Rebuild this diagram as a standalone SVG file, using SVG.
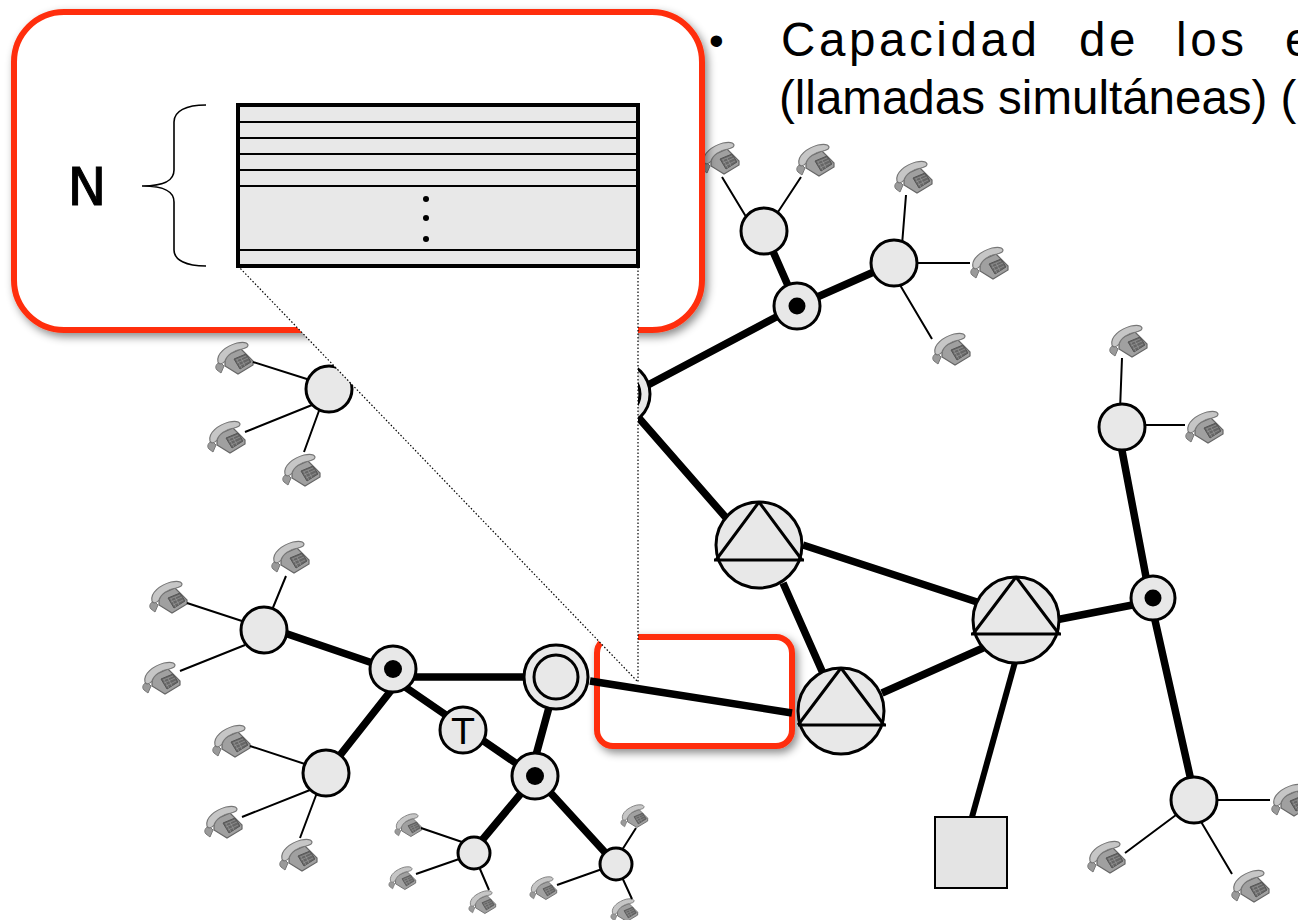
<svg xmlns="http://www.w3.org/2000/svg" width="1298" height="920" viewBox="0 0 1298 920">
<style>
.t{font-family:"Liberation Sans",Arial,sans-serif;font-size:47.5px;fill:#000}
.hand{font-family:"DejaVu Sans",sans-serif;fill:#000}
.n{fill:#e8e8e8;stroke:#000;stroke-width:3}
.thick{stroke:#000;stroke-width:7.5;fill:none}
.med{stroke:#000;stroke-width:6;fill:none}
.thin{stroke:#000;stroke-width:2;fill:none}
.dot{fill:#000}
.tri{fill:none;stroke:#000;stroke-width:3}
.red{fill:#fff;stroke:#ff2f0a;stroke-width:6;filter:url(#sh)}
.row{stroke:#000;stroke-width:2}
.dotted{fill:none;stroke:#000;stroke-width:1.2;stroke-dasharray:1.5 2}
</style>
<defs>
<filter id="sh" x="-10%" y="-10%" width="125%" height="125%"><feDropShadow dx="3" dy="4" stdDeviation="4" flood-color="#000" flood-opacity="0.45"/></filter>
<g id="ph">
<path d="M-17 12 C-20 9 -17 5 -14 4 L-10 8 L-13 15Z" fill="#9a9a9a" stroke="#777" stroke-width="1"/>
<path d="M-9 -2 L7 -9 L19 3 L19 7 L4 16 L-9 8Z" fill="#a0a0a0" stroke="#666" stroke-width="1.2"/>
<path d="M0 1 L12 -4 L17 4 L6 11Z" fill="#666" stroke="#555" stroke-width="1"/>
<path d="M2 2 L12 -2 M3 5 L14 0 M5 8 L15 3 M3 2 L8 10 M7 0 L11 8" stroke="#999" stroke-width="0.7"/>
<path d="M-16 4 C-18 -4 -8 -12 3 -15 C8 -16 13 -16 14 -13 C14 -10 11 -10 8 -9 C0 -8 -7 -3 -9 3 C-11 6 -15 7 -16 4Z" fill="#c6c6c6" stroke="#777" stroke-width="1.2"/>
</g>
</defs>

<text id="bullet" class="t" x="709" y="55" style="font-size:42px">•</text>
<text id="line1" class="t" y="56"><tspan x="781" letter-spacing="3.6">Capacidad</tspan><tspan x="1079" letter-spacing="3.6">de</tspan><tspan x="1176" letter-spacing="3.6">los</tspan><tspan x="1285">e</tspan></text>
<text id="line2" class="t" x="779" y="114">(llamadas simultáneas) (</text>

<g id="phones">
<use href="#ph" x="720" y="158"/><use href="#ph" x="815" y="160"/><use href="#ph" x="913" y="177"/><use href="#ph" x="989" y="263"/><use href="#ph" x="951" y="349"/>
<use href="#ph" x="1128" y="341"/><use href="#ph" x="1204" y="427"/>
<use href="#ph" x="234" y="358"/><use href="#ph" x="226" y="437"/><use href="#ph" x="301" y="470"/>
<use href="#ph" x="290" y="557"/><use href="#ph" x="168" y="597"/><use href="#ph" x="161" y="678"/>
<use href="#ph" x="231" y="741"/><use href="#ph" x="223" y="822"/><use href="#ph" x="298" y="855"/>
<use href="#ph" x="1290" y="800"/><use href="#ph" x="1106" y="857"/><use href="#ph" x="1250" y="886"/>
<use href="#ph" transform="translate(408 825) scale(.72)"/><use href="#ph" transform="translate(402 878) scale(.72)"/><use href="#ph" transform="translate(482 902) scale(.72)"/>
<use href="#ph" transform="translate(634 816) scale(.72)"/><use href="#ph" transform="translate(543 888) scale(.72)"/><use href="#ph" transform="translate(624 910) scale(.72)"/>
</g>

<rect id="highlight" class="red" x="597" y="637" width="195" height="109" rx="16"/>

<g id="connectors">
<path class="thin" d="M722 177L748 220M801 177L776 215M906 195L902 245M970 263L910 263M932 339L900 285"/>
<path class="thin" d="M1122 358L1120 410M1185 425L1135 425M253 362L310 380M245 432L312 405M304 452L320 408"/>
<path class="thin" d="M286 576L272 610M187 603L245 622M180 671L245 645M250 746L308 765M242 817L310 790M300 838L318 790"/>
<path class="thin" d="M421 828L465 843M416 874L462 858M489 890L477 862M636 828L622 850M557 885L605 868M621 875L632 899"/>
<path class="thin" d="M1270 800L1205 800M1125 853L1180 812M1232 874L1200 820"/>
<path class="thick" d="M764 231L797 306L894 263M780 315L648 385M638 417L728 520M783 583L826 680M803 545L977 602M882 693L983 648M1040 623L1153 601M1120 440L1150 598L1192 785"/>
<path class="med" d="M1017 655L972 817"/>
<path class="thick" d="M264 626L393 670M393 677H556M551 700L536 755M395 680L520 766M393 688L326 773M528 785L478 845M548 790L612 860"/>
<path class="thick" d="M590 681L792 713"/>
</g>

<g id="n-a"><circle class="n" cx="764" cy="231" r="23"/></g>
<g id="n-b"><circle class="n" cx="797" cy="306" r="23"/><circle class="dot" cx="797" cy="306" r="8.5"/></g>
<g id="n-c"><circle class="n" cx="894" cy="263" r="23"/></g>
<g id="n-d"><circle class="n" cx="618" cy="394" r="32"/><circle class="n" cx="618" cy="394" r="22"/></g>
<g id="n-e"><circle class="n" cx="329" cy="389" r="23"/></g>
<g id="n-f"><circle class="n" cx="759" cy="545" r="43"/><path class="tri" d="M714 560H804M759 502L716 560M759 502L802 560"/></g>
<g id="n-g"><circle class="n" cx="841" cy="711" r="43"/><path class="tri" d="M798 725H886M841 668L798 725M841 668L884 725"/></g>
<g id="n-h"><circle class="n" cx="1016" cy="620" r="43"/><path class="tri" d="M971 634H1061M1016 577L973 634M1016 577L1059 634"/></g>
<g id="n-i"><circle class="n" cx="1153" cy="598" r="22"/><circle class="dot" cx="1153" cy="598" r="8.5"/></g>
<g id="n-j"><circle class="n" cx="1122" cy="427" r="23"/></g>
<g id="n-k"><circle class="n" cx="1194" cy="800" r="23"/></g>
<g id="n-l"><rect x="935" y="817" width="72" height="71" fill="#e4e4e4" stroke="#000" stroke-width="2"/></g>
<g id="n-m"><circle class="n" cx="264" cy="630" r="23"/></g>
<g id="n-n"><circle class="n" cx="393" cy="669" r="23"/><circle class="dot" cx="393" cy="669" r="9"/></g>
<g id="n-o"><circle class="n" cx="556" cy="677" r="32"/><circle class="n" cx="556" cy="677" r="22"/></g>
<g id="n-p"><circle class="n" cx="463" cy="730" r="23"/><text class="hand" x="463" y="744" font-size="36" text-anchor="middle">T</text></g>
<g id="n-q"><circle class="n" cx="535" cy="776" r="23"/><circle class="dot" cx="535" cy="776" r="9"/></g>
<g id="n-r"><circle class="n" cx="326" cy="773" r="23"/></g>
<g id="n-s"><circle class="n" cx="474" cy="853" r="16"/></g>
<g id="n-t"><circle class="n" cx="616" cy="864" r="16"/></g>

<g id="zoom-box">
<rect class="red" x="14" y="12" width="688" height="318" rx="50"/>
<path d="M238 266L638 682V266Z" fill="#fff"/>
<path class="dotted" d="M238 266L638 682V266"/>
<rect x="238" y="105" width="400" height="161" fill="#e8e8e8" stroke="#000" stroke-width="4"/>
<path class="row" d="M238 122H638M238 138H638M238 154H638M238 170H638M238 186H638M238 250H638"/>
<circle class="dot" cx="426" cy="199" r="3"/><circle class="dot" cx="426" cy="218" r="3"/><circle class="dot" cx="426" cy="239" r="3"/>
<path fill="none" stroke="#000" stroke-width="1.6" d="M206 105C186 105 174 111 174 122V170C174 180 166 186 142 186C166 186 174 192 174 202V250C174 260 186 266 206 266"/>
<text class="hand" x="87" y="205" font-size="52" stroke="#000" stroke-width="1" text-anchor="middle">N</text>
</g>
</svg>
